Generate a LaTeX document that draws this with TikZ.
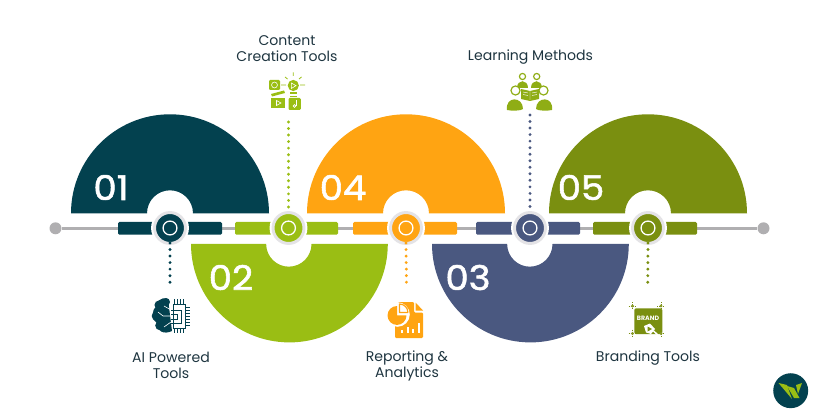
\documentclass[tikz,border=0pt]{standalone}
\usepackage{fontspec}
\usetikzlibrary{calc}
\setmainfont{Poppins}
\newfontfamily\numfont[FakeBold=1.6,FakeStretch=1.09]{Poppins}
\definecolor{cteal}{HTML}{03414F}
\definecolor{clime}{HTML}{9ABE14}
\definecolor{corange}{HTML}{FFA412}
\definecolor{cblue}{HTML}{4A5880}
\definecolor{colive}{HTML}{7A8F10}
\definecolor{cline}{HTML}{B0AFB1}
\definecolor{cring}{HTML}{E4E3E6}
\definecolor{ctext}{HTML}{1E3540}
\definecolor{cicon}{HTML}{8FAD15}
\tikzset{
 lbl/.style={font=\fontsize{10.55pt}{12pt}\selectfont,text=ctext,align=center,inner sep=0pt},
 num/.style={font=\numfont\fontsize{25.5pt}{26pt}\selectfont,text=white,inner sep=0pt},
 hubnode/.style={circle,fill=#1,draw=cring,line width=2.2pt,minimum size=23.2pt,inner sep=0pt,outer sep=0pt},
 dotline/.style={line width=2.4pt,line cap=round,dash pattern=on 0pt off 4.9pt,draw=#1},
 endnode/.style={circle,fill=cline,minimum size=9pt,inner sep=0pt},
 wlines/.style={draw=white,line width=.45pt},
}
\newcommand{\semiUp}[3]{\fill[#3] ({#1-99},#2) arc[start angle=180,end angle=0,radius=74.25pt] -- ({#1+23},#2) arc[start angle=0,end angle=180,radius=17.25pt] -- cycle;}
\newcommand{\semiDown}[3]{\fill[#3] ({#1-98},#2) arc[start angle=180,end angle=360,radius=73.8pt] -- ({#1+22.5},#2) arc[start angle=360,end angle=180,radius=17pt] -- cycle;}
\newcommand{\hub}[3]{% name, x, color
 \fill[white] (#2,228) circle[radius=14.2pt];
 \node[hubnode=#3] (#1) at (#2,228) {};
 \draw[white,line width=.95pt] (#1) circle[radius=5.2pt];}
\newcommand{\barseg}[3]{\fill[#3,rounded corners=1pt] (#1,222) rectangle (#2,234.7);}
\begin{document}
\begin{tikzpicture}[x=.75pt,y=-.75pt]
\useasboundingbox (0,0) rectangle (818,417);
% semicircles
\semiUp{170}{213.3}{cteal}
\semiUp{406}{213.3}{corange}
\semiUp{648}{213.3}{colive}
\semiDown{289}{244}{clime}
\semiDown{530}{244}{cblue}
% axis
\node[endnode] (e1) at (55.5,228.3) {};
\node[endnode] (e2) at (763.5,228.3) {};
\draw[cline,line width=2.2pt] (e1) -- (e2);
\barseg{118}{222}{cteal}
\barseg{235}{338}{clime}
\barseg{353}{457}{corange}
\barseg{476}{580}{cblue}
\barseg{593}{697}{colive}
\hub{h1}{170}{cteal}
\hub{h2}{288.5}{clime}
\hub{h3}{406}{corange}
\hub{h4}{530}{cblue}
\hub{h5}{648}{colive}
% numbers
\node[num] (n1) at (111,187.5) {01};
\node[num] (n2) at (231,277.5) {02};
\node[num] (n3) at (343,187.5) {04};
\node[num] (n4) at (468,277.5) {03};
\node[num] (n5) at (581,187.5) {05};
% connector ends
\coordinate (c1) at (170,288);
\coordinate (c2) at (288.5,122);
\coordinate (c3) at (406.5,288);
\coordinate (c4) at (530,115);
\coordinate (c5) at (647.7,286);
\draw[dotline=cteal] ($(h1)+(0,15)$) -- (c1);
\draw[dotline=clime] (c2) -- ($(h2)+(0,-19)$);
\draw[dotline=corange] ($(h3)+(0,15)$) -- (c3);
\draw[dotline=cblue] (c4) -- ($(h4)+(0,-19)$);
\draw[dotline=colive] ($(h5)+(0,15)$) -- (c5);
% labels
\node[lbl] (t1) at (171,365.5) {AI Powered\\Tools};
\node[lbl] (t2) at (287,48.5) {Content\\Creation Tools};
\node[lbl] (t3) at (407,365.5) {Reporting \&\\Analytics};
\node[lbl] (t4) at (530.5,57) {Learning Methods};
\node[lbl] (t5) at (648,358.5) {Branding Tools};
% --- AI icon
\fill[cteal] (168,299) .. controls (160,296) and (156,303) .. (157,306) .. controls (151,310) and (151,320) .. (157,323) .. controls (156,331) and (164,335) .. (172,331) -- cycle;
\fill[cteal] (159,305) circle[radius=3.4pt] (156.5,316) circle[radius=3.6pt] (160,325.5) circle[radius=3.6pt] (166,302) circle[radius=3pt];
\draw[wlines] (171,316) -- (163,316) -- (158,312) (171,310) -- (164,306) (171,322) -- (164,327);
\draw[cteal,line width=.75pt] (173,304.5) rectangle (185,328);
\draw[cteal,line width=.75pt] (171,310) -- (181,310) -- (181,323) -- (171,323);
\draw[cteal,line width=.75pt] (171,314) -- (177,314) -- (177,319) -- (171,319);
\foreach \yy in {307,310,313,316,319,322,325}{\draw[cteal,line width=.75pt] (185,\yy) -- (189.5,\yy);}
\foreach \xx in {174,177,180,183}{\draw[cteal,line width=.75pt] (\xx,304.5) -- (\xx,299) (\xx,328) -- (\xx,333);}
% --- Content icon
\fill[clime,rounded corners=.8pt] (269,80) rectangle (280,90);
\draw[white,line width=.45pt] (274.5,85) circle[radius=2.2pt];
\draw[clime,line width=.6pt] (281,85) -- (286,85) (300,85) -- (305,85) (293.3,72.5) -- (293.3,76) (285,77) -- (287.5,79) (301.5,77) -- (299,79);
\fill[clime] (293.3,85.5) circle[radius=4.2pt];
\fill[clime] (290,92) rectangle (296.5,94.5);
\draw[clime,line width=.5pt] (290,96) -- (296.5,96);
\draw[white,line width=.45pt] (291.3,83) -- (291.3,88.5) -- (296,85.7) -- cycle;
\fill[clime] (271,94) -- (284,90.5) -- (285,93) -- (272,96.5) -- cycle;
\fill[clime] (271,98) rectangle (285,108);
\draw[white,line width=.45pt] (276.5,100.5) -- (276.5,105.5) -- (281,103) -- cycle;
\fill[clime,rounded corners=.8pt] (288.5,98) rectangle (300.8,110);
\draw[white,line width=.5pt] (296,100.5) -- (296,106);
\draw[white,line width=.5pt] (294.5,106) circle[radius=1.1pt];
% --- Report icon
\fill[corange,rounded corners=.8pt] (398,302) -- (414,302) -- (414,312.5) -- (423,312.5) -- (423,338) -- (395,338) -- (395,324) -- cycle;
\fill[corange] (415.5,302.5) -- (423,310.5) -- (415.5,310.5) -- cycle;
\fill[white] (397.5,314.5) circle[radius=9.2pt];
\fill[corange] (397,315.5) -- (397,306) arc[start angle=90,end angle=360,radius=7.1pt] -- cycle;
\draw[corange,line width=.9pt,fill=white,line join=round] (399.5,312.5) -- (399.5,304) arc[start angle=90,end angle=0,radius=6.3pt] -- cycle;
\foreach \xa/\ha in {401/330,406.5/327,412/329,417.5/323}{\fill[white] (\xa,\ha) rectangle (\xa+2.2,333);}
% --- Learning icon
\tikzset{pp/.style={draw=cicon,line width=.9pt,fill=white}}
\draw[pp] (522.5,76.5) circle[radius=2.3pt];
\draw[pp] (536.7,76.5) circle[radius=2.3pt];
\fill[cicon] (517,88) .. controls (517,79) and (528,79) .. (528,88) -- cycle;
\fill[cicon] (531,88) .. controls (531,79) and (542,79) .. (542,88) -- cycle;
\draw[pp] (515.5,90.5) circle[radius=3.4pt];
\draw[pp] (543.5,90.5) circle[radius=3.4pt];
\fill[cicon] (507,110) .. controls (505,96) and (523,96) .. (523,109) .. controls (521,111) and (511,111) .. (507,110) -- cycle;
\fill[cicon] (536,109) .. controls (536,96) and (554,96) .. (552,110) .. controls (548,111) and (538,111) .. (536,109) -- cycle;
\fill[cicon] (521,89) -- (530,91) -- (539,89) -- (539,99) -- (530,101) -- (521,99) -- cycle;
\draw[white,line width=.35pt] (530,91) -- (530,100) (523,92) -- (528,93) (523,94.5) -- (528,95.5) (532,93) -- (537,92) (532,95.5) -- (537,94.5);
% --- Branding icon
\fill[colive,rounded corners=1.2pt] (634.3,308.3) rectangle (662.3,334);
\foreach \mx/\my in {632.5/306,661/306,632.5/333.5,661/333.5}{
 \draw[colive,line width=.5pt,densely dotted] (\mx-4,\my) -- (\mx+4,\my) (\mx,\my-4) -- (\mx,\my+4);
 \fill[colive!90] (\mx,\my) circle[radius=1.3pt];}
\node[font=\fontsize{4.7pt}{5pt}\selectfont\bfseries,text=white,inner sep=0pt] (brand) at (648,318) {BRAND};
\fill[white] (644,326) -- (650,323.5) -- (655,329) -- (651,334) -- (646,332.5) -- cycle;
\fill[colive] (647.5,326.5) -- (652,329) -- (647.5,331.5) -- cycle;
\draw[white,line width=1.1pt] (653.5,331) -- (658,335);
% --- logo
\node[circle,fill=cteal,minimum size=26.2pt,inner sep=0pt] (logo) at (790.7,390.7) {};
\fill[clime] (778.5,383) -- (787,385) -- (792,399) -- cycle;
\fill[clime] (787,386) -- (794,388) -- (799.5,398) -- (794,398) -- cycle;
\fill[clime] (796,385) -- (802,383) -- (798,394) -- cycle;
\end{tikzpicture}
\end{document}
